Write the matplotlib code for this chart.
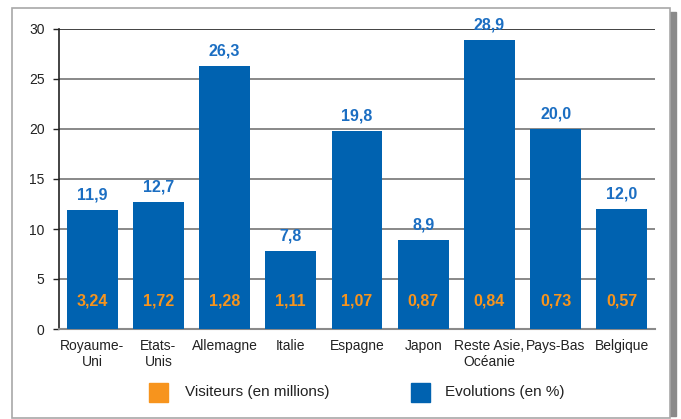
import numpy as np
import matplotlib.pyplot as plt
from matplotlib.patches import Rectangle

# Data
categories = ['Royaume-\nUni', 'Etats-\nUnis', 'Allemagne', 'Italie', 'Espagne',
              'Japon', 'Reste Asie,\nOcéanie', 'Pays-Bas', 'Belgique']
evolutions = [11.9, 12.7, 26.3, 7.8, 19.8, 8.9, 28.9, 20.0, 12.0]
visiteurs = [3.24, 1.72, 1.28, 1.11, 1.07, 0.87, 0.84, 0.73, 0.57]

blue = '#0062B0'
label_blue = '#1B6EC2'
orange = '#F7941D'

plt.rcParams['font.family'] = ['Liberation Sans', 'DejaVu Sans']

fig = plt.figure(figsize=(6.81, 4.19), dpi=100)

# outer frame with a shadow on the right
fig.patches.append(Rectangle((670 / 681, 3 / 419), 6 / 681, 404 / 419,
                             transform=fig.transFigure, color='#8a8a8a', zorder=0))
fig.patches.append(Rectangle((12 / 681, 1 / 419), 658 / 681, 410 / 419,
                             transform=fig.transFigure, facecolor='white',
                             edgecolor='#a8a8a8', lw=1.2, zorder=1))

ax = fig.add_axes([59 / 681, 90 / 419, 596 / 681, 300 / 419])
ax.set_zorder(2)
ax.patch.set_visible(False)

x = np.arange(len(categories))
ax.bar(x, evolutions, width=0.77, color=blue, zorder=3)

for i, v in enumerate(evolutions):
    ax.annotate(('%.1f' % v).replace('.', ','), (i, v), xytext=(0, 5.5),
                textcoords='offset points', ha='center', va='bottom',
                color=label_blue, fontsize=11.5, fontweight='bold')
for i, v in enumerate(visiteurs):
    ax.annotate(('%.2f' % v).replace('.', ','), (i, 0), xytext=(0, 20.5),
                textcoords='offset points', ha='center', va='center',
                color=orange, fontsize=11.5, fontweight='bold', zorder=4)

ax.set_xlim(-0.5, len(categories) - 0.5)
ax.set_ylim(0, 30)
ax.set_yticks(range(0, 31, 5))
ax.set_xticks(x)
ax.set_xticklabels(categories, fontsize=10, color='#222222', linespacing=1.25)
ax.tick_params(axis='x', length=0, pad=7)
ax.tick_params(axis='y', length=4.5, width=1, color='#222222', labelsize=10,
               labelcolor='#222222', pad=6)

for y in range(5, 30, 5):
    ax.axhline(y, color='#7f7f7f', lw=1.3, zorder=1)
ax.axhline(30, color='#333333', lw=1.3, zorder=1)

for s in ['top', 'right']:
    ax.spines[s].set_visible(False)
ax.spines['left'].set_color('#222222')
ax.spines['left'].set_linewidth(1.2)
ax.spines['bottom'].set_color('#8a8a8a')
ax.spines['bottom'].set_linewidth(1.5)

# legend
fig.patches.append(Rectangle((149 / 681, 17 / 419), 19 / 681, 19 / 419,
                             transform=fig.transFigure, color=orange, zorder=3))
fig.text(185 / 681, 27 / 419, 'Visiteurs (en millions)', fontsize=11,
         color='#222222', va='center', zorder=3)
fig.patches.append(Rectangle((411 / 681, 17 / 419), 19 / 681, 19 / 419,
                             transform=fig.transFigure, color=blue, zorder=3))
fig.text(445 / 681, 27 / 419, 'Evolutions (en %)', fontsize=11,
         color='#222222', va='center', zorder=3)

fig.savefig('out.png', dpi=100)
